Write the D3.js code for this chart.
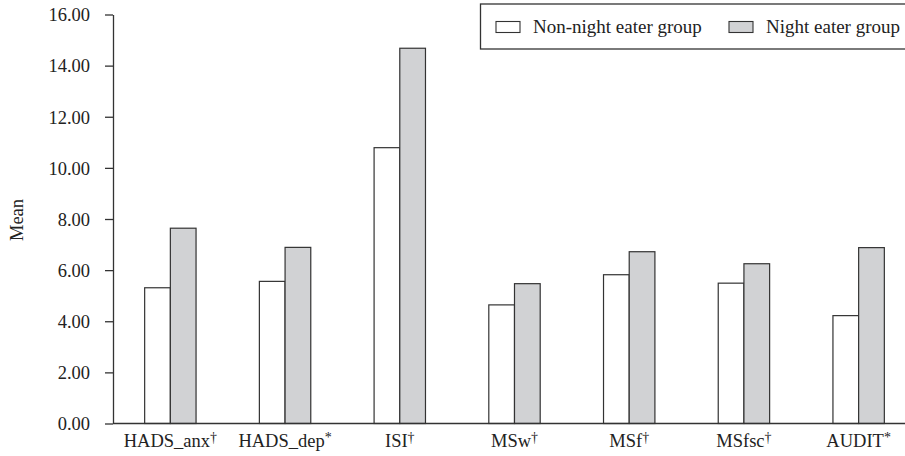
<!DOCTYPE html>
<html>
<head>
<meta charset="utf-8">
<script src="https://cdn.jsdelivr.net/npm/d3@7"></script>
<style>
  body { margin: 0; background: #fff; }
  svg text { font-family: "Liberation Serif", "DejaVu Serif", serif; }
</style>
</head>
<body>
<svg id="chart" width="905" height="456"></svg>
<script>
const categories = ["HADS_anx", "HADS_dep", "ISI", "MSw", "MSf", "MSfsc", "AUDIT"];
const marks = ["\u2020", "*", "\u2020", "\u2020", "\u2020", "\u2020", "*"];
const nonNightEater = [5.31, 5.56, 10.79, 4.64, 5.82, 5.49, 4.22];
const nightEater = [7.64, 6.89, 14.68, 5.47, 6.72, 6.25, 6.88];
const seriesNames = ["Non-night eater group", "Night eater group"];
const seriesFill = ["#ffffff", "#d1d2d4"];
const yTicks = [0, 2, 4, 6, 8, 10, 12, 14, 16];

const svg = d3.select("#chart");
const plotLeft = 113, plotTop = 14.5, plotBottom = 423.5, plotRight = 916;
const ink = "#333";
const serif = "'Liberation Serif', 'DejaVu Serif', serif";

const y = d3.scaleLinear().domain([0, 16]).range([plotBottom, plotTop]);
const x0 = d3.scaleBand().domain(categories).range([plotLeft, plotRight])
    .paddingInner(0.552).paddingOuter(0.276);
const x1 = d3.scaleBand().domain([0, 1]).range([0, x0.bandwidth()]);

// bars
const groups = svg.append("g").selectAll("g")
    .data(categories)
    .join("g")
    .attr("transform", d => `translate(${x0(d)},0)`);

groups.selectAll("rect")
    .data((d, i) => [nonNightEater[i], nightEater[i]])
    .join("rect")
    .attr("x", (d, j) => x1(j))
    .attr("y", d => y(d))
    .attr("width", x1.bandwidth())
    .attr("height", d => plotBottom - y(d))
    .attr("fill", (d, j) => seriesFill[j])
    .attr("stroke", ink)
    .attr("stroke-width", 1.2);

// y axis
const yAxis = svg.append("g")
    .attr("transform", `translate(${plotLeft},0)`)
    .call(d3.axisLeft(y).tickValues(yTicks).tickFormat(d3.format(".2f"))
        .tickSize(8).tickSizeOuter(0).tickPadding(15));
yAxis.select(".domain").attr("stroke", ink).attr("stroke-width", 1.3);
yAxis.selectAll(".tick line").attr("stroke", ink).attr("stroke-width", 1.3);
yAxis.selectAll(".tick text")
    .attr("fill", "#222")
    .attr("dy", "0.34em")
    .style("font-size", "18.5px")
    .style("font-family", serif);

// x axis line
svg.append("line")
    .attr("x1", plotLeft).attr("x2", 905)
    .attr("y1", plotBottom).attr("y2", plotBottom)
    .attr("stroke", ink).attr("stroke-width", 1.3);

// x labels
const xl = svg.append("g").selectAll("text")
    .data(categories)
    .join("text")
    .attr("x", d => x0(d) + x0.bandwidth() / 2)
    .attr("y", 447)
    .attr("text-anchor", "middle")
    .attr("fill", "#222")
    .style("font-family", serif)
    .style("font-size", "18.5px");
xl.append("tspan").text(d => d);
xl.append("tspan")
    .text((d, i) => marks[i])
    .attr("dy", -5)
    .style("font-size", "14px");

// y title
svg.append("text")
    .attr("transform", "translate(23,220) rotate(-90)")
    .attr("text-anchor", "middle")
    .attr("fill", "#222")
    .style("font-family", serif)
    .style("font-size", "18.5px")
    .text("Mean");

// legend
const legend = svg.append("g");
legend.append("rect")
    .attr("x", 480.5).attr("y", 4)
    .attr("width", 440).attr("height", 45)
    .attr("fill", "#fff")
    .attr("stroke", ink).attr("stroke-width", 1.3);
const legendX = [496, 729];
seriesNames.forEach((name, i) => {
    legend.append("rect")
        .attr("x", legendX[i]).attr("y", 21.5)
        .attr("width", 24).attr("height", 11)
        .attr("fill", seriesFill[i])
        .attr("stroke", ink).attr("stroke-width", 1.1);
    legend.append("text")
        .attr("x", legendX[i] + 37).attr("y", 33)
        .attr("fill", "#222")
        .style("font-family", serif)
        .style("font-size", "19px")
        .text(name);
});
</script>
</body>
</html>
